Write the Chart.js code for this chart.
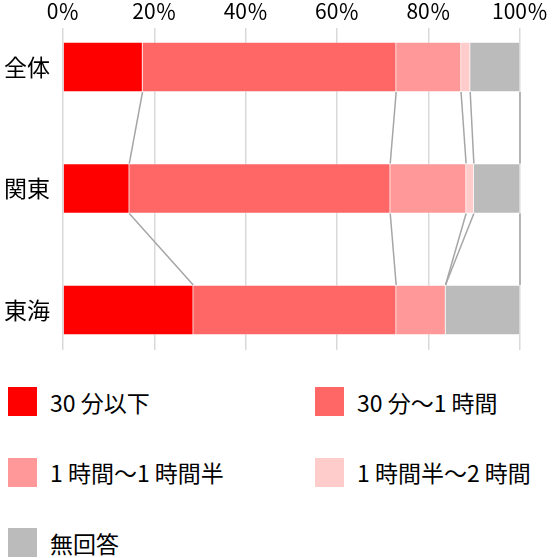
<!DOCTYPE html>
<html>
<head>
<meta charset="utf-8">
<script src="https://cdn.jsdelivr.net/npm/chart.js@4/dist/chart.umd.min.js"></script>
<style>
  body { margin: 0; background: #fff; font-family: "Noto Sans CJK JP", sans-serif; }
  #wrap { position: relative; width: 552px; height: 558px; }
  #box { position: absolute; left: 0; top: 0; width: 552px; height: 370px; }
  .item { position: absolute; height: 29px; display: flex; align-items: center; font-size: 23px; color: #000; white-space: nowrap; }
  .item span.sw { display: inline-block; width: 29px; height: 29px; margin-right: 13px; }
</style>
</head>
<body>
<div id="wrap">
  <div id="box"><canvas id="grafico"></canvas></div>
  <div id="legenda"></div>
</div>
<script>
const categorias = ['全体', '関東', '東海']
const series = ['30 分以下', '30 分～1 時間', '1 時間～1 時間半', '1 時間半～2 時間', '無回答']
const cores = ['#ff0000', '#ff6666', '#ff9999', '#ffcccc', '#bbbbbb']

const v_30min = [17.4, 14.5, 28.5]
const v_1h = [55.5, 57.1, 44.4]
const v_1h30 = [14.2, 16.6, 10.8]
const v_2h = [2.0, 1.7, 0]
const v_nr = [10.9, 10.1, 16.3]

const ticks_x = [0, 20, 40, 60, 80, 100]

const valores = [v_30min, v_1h, v_1h30, v_2h, v_nr]

// linhas ligando as fronteiras das barras
const ligacoes = {
    id: 'ligacoes',
    afterDatasetsDraw(chart) {
        const ctx = chart.ctx
        ctx.save()
        ctx.strokeStyle = '#a6a6a6'
        ctx.lineWidth = 1.5
        for (let k = 0; k < chart.data.datasets.length; k++) {
            const els = chart.getDatasetMeta(k).data
            for (let i = 0; i < els.length - 1; i++) {
                const a = els[i].getProps(['x', 'y', 'height'], true)
                const b = els[i + 1].getProps(['x', 'y', 'height'], true)
                ctx.beginPath()
                ctx.moveTo(a.x, a.y + a.height / 2)
                ctx.lineTo(b.x, b.y - b.height / 2)
                ctx.stroke()
            }
        }
        ctx.restore()
    }
}

const data = {
    datasets: series.map((nome, k) => ({
        label: nome,
        data: valores[k].map((v, i) => ({ x: v, y: i })),
        backgroundColor: cores[k],
        borderColor: 'rgba(255,255,255,0.35)',
        borderWidth: 1,
        barThickness: 50,
    }))
}

const config = {
    type: 'bar',
    data: data,
    options: {
        indexAxis: 'y',
        responsive: true,
        maintainAspectRatio: false,
        animation: false,
        layout: { padding: { right: 31, bottom: 20 } },
        plugins: { legend: { display: false }, tooltip: { enabled: false } },
        scales: {
            x: {
                position: 'top',
                stacked: true,
                min: 0,
                max: 100,
                afterBuildTicks: s => { s.ticks = ticks_x.map(v => ({ value: v })) },
                afterFit: s => { s.height = 28 },
                border: { display: false },
                grid: { color: '#d9d9d9', lineWidth: 1.5, drawTicks: false },
                ticks: {
                    padding: 4,
                    color: '#000',
                    font: { family: 'Noto Sans CJK JP', size: 21 },
                    callback: v => v + '％'
                }
            },
            y: {
                type: 'linear',
                stacked: true,
                reverse: true,
                offset: false,
                min: -0.321,
                max: 2.329,
                afterBuildTicks: s => { s.ticks = categorias.map((c, i) => ({ value: i })) },
                afterFit: s => { s.width = 63; s.paddingTop = 0; s.paddingBottom = 0 },
                border: { display: false },
                grid: { display: false, drawTicks: false, offset: false },
                ticks: {
                    padding: 13,
                    color: '#000',
                    font: { family: 'Noto Sans CJK JP', size: 23 },
                    callback: v => categorias[v]
                }
            }
        }
    },
    plugins: [ligacoes]
}

const graficoGeral = new Chart(document.querySelector('#grafico'), config)

// legenda em duas colunas
const legenda = document.getElementById('legenda')
series.forEach((nome, k) => {
    const item = document.createElement('div')
    item.className = 'item'
    item.style.left = (k % 2 === 0 ? 8 : 315) + 'px'
    item.style.top = (387 + Math.floor(k / 2) * 70.5) + 'px'
    item.innerHTML = `<span class="sw" style="background:${cores[k]}"></span>${nome}`
    legenda.appendChild(item)
})
</script>
</body>
</html>
